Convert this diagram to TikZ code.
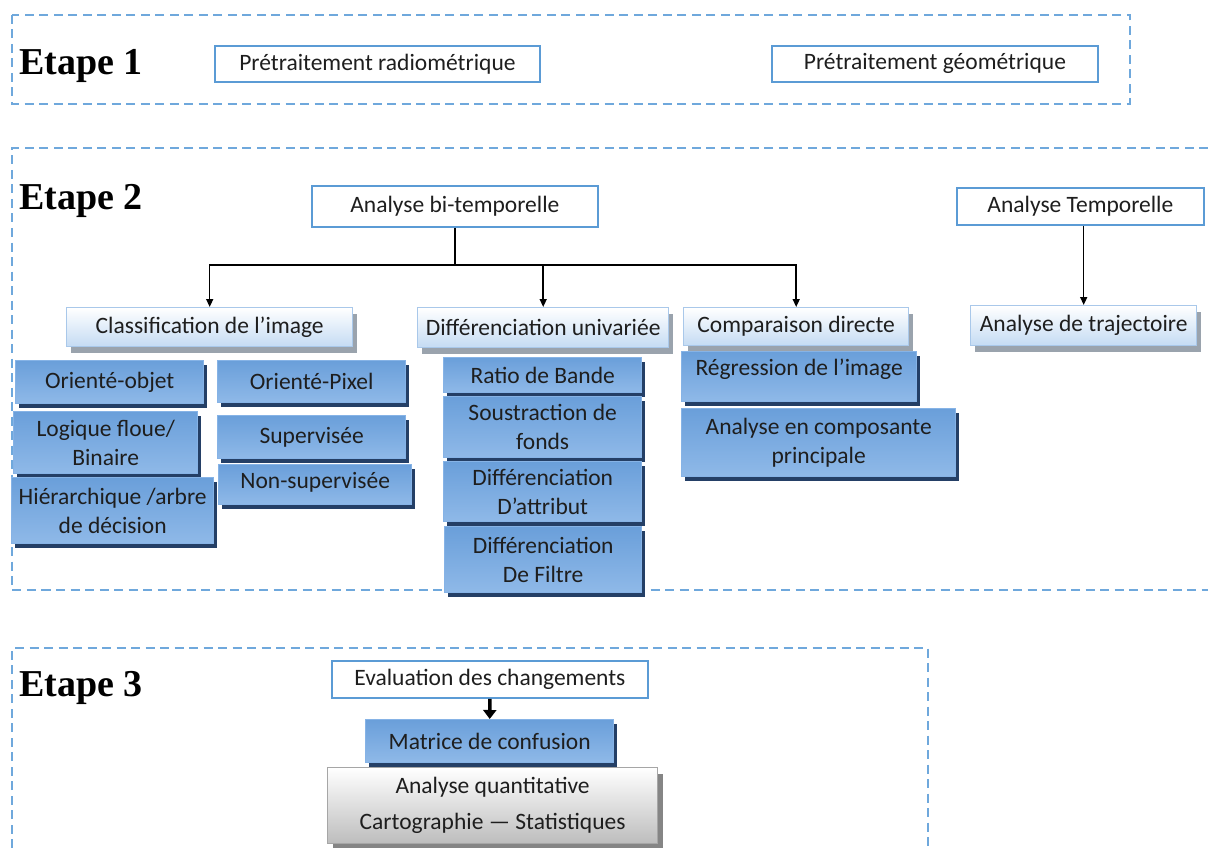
\documentclass[tikz,border=0pt]{standalone}
\usepackage{fontspec}
\setmainfont{Carlito}
\newfontfamily\etapefont{Liberation Serif}
\usetikzlibrary{arrows.meta,shadows}

\definecolor{frameblue}{HTML}{6FA8DC}
\definecolor{boxblue}{HTML}{5B9BD5}
\definecolor{lightedge}{HTML}{A9C8EA}
\definecolor{lightfill}{HTML}{C4DBF3}
\definecolor{lightshadow}{HTML}{9AA3AD}
\definecolor{darktop}{HTML}{6A9FDA}
\definecolor{darkmid}{HTML}{4F8BCF}
\definecolor{darkbot}{HTML}{8FB9E8}
\definecolor{darkedge}{HTML}{86B3E6}
\definecolor{navyshadow}{HTML}{243F66}
\definecolor{grayfill}{HTML}{BDBDBD}
\definecolor{grayedge}{HTML}{A6A6A6}
\definecolor{grayshadow}{HTML}{858585}
\definecolor{ink}{HTML}{1E1E1E}

\begin{document}
\begin{tikzpicture}[x=1pt, y=-1pt,
  font=\fontsize{23.5}{29}\selectfont, text=ink,
  frame/.style={draw=frameblue, line width=2.2pt, dash pattern=on 9pt off 5.5pt},
  etape/.style={font=\etapefont\bfseries\fontsize{38}{42}\selectfont, text=black, inner sep=0, anchor=base west},
  whitebox/.style={draw=boxblue, line width=1.8pt, fill=white, inner sep=0, anchor=north west, align=center},
  lightbox/.style={draw=lightedge, line width=1.4pt, top color=white, bottom color=lightfill,
    drop shadow={shadow xshift=4pt, shadow yshift=-6pt, fill=lightshadow, opacity=1},
    inner sep=0, anchor=north west, align=center},
  darkbox/.style={draw=darkedge, line width=1.4pt, top color=darktop, middle color=darkmid, bottom color=darkbot,
    drop shadow={shadow xshift=3pt, shadow yshift=-4pt, fill=navyshadow, opacity=1},
    inner sep=0, anchor=north west, align=center},
  graybox/.style={draw=grayedge, line width=1.2pt, top color=white, bottom color=grayfill,
    drop shadow={shadow xshift=5pt, shadow yshift=-6pt, fill=grayshadow, opacity=1},
    inner sep=0, anchor=north west, align=center},
  link/.style={draw=black, line width=1.5pt},
  arr/.style={link, -{Triangle[length=8pt,width=7pt]}},
  bigarr/.style={draw=black, line width=3.5pt, -{Triangle[length=9pt,width=13pt]}}
]
\path[use as bounding box] (0,0) rectangle (1208,848);

% dashed stage frames
\draw[frame] (12,15) rectangle (1130,104);
\draw[frame] (1208,148) -- (12,148) -- (12,590) -- (1208,590);
\draw[frame] (12,848) -- (12,648) -- (928,648) -- (928,848);

% stage titles
\node[etape] (e1) at (19,75) {Etape 1};
\node[etape] (e2) at (19,209) {Etape 2};
\node[etape] (e3) at (19,696) {Etape 3};

% stage 1
\node[whitebox, minimum width=325, minimum height=36] (rad) at (214,45) {Prétraitement radiométrique};
\node[whitebox, minimum width=326, minimum height=36] (geo) at (771,45) {Prétraitement géométrique};

% stage 2: headers
\node[whitebox, minimum width=286, minimum height=41] (bt) at (311,185) {Analyse bi-temporelle};
\node[whitebox, minimum width=247, minimum height=37] (at) at (956,187) {Analyse Temporelle};

\node[lightbox, minimum width=286, minimum height=39] (cl) at (66,307) {Classification de l’image};
\node[lightbox, minimum width=251, minimum height=40] (du) at (417,307) {Différenciation univariée};
\node[lightbox, minimum width=225, minimum height=38] (cp) at (683,307) {Comparaison directe};
\node[lightbox, minimum width=226, minimum height=40] (tr) at (970,305) {Analyse de trajectoire};

% stage 2: connectors
\coordinate (bus) at (454,265);
\draw[arr] (bt.south) |- (cl.north |- bus) -- (cl.north);
\draw[arr] (bt.south) |- (cp.north |- bus) -- (cp.north);
\draw[arr] (du.north |- bus) -- (du.north);
\draw[arr] (at.south -| tr.north) -- (tr.north);

% stage 2: classification methods
\node[darkbox, minimum width=188, minimum height=43] (oo) at (15,360) {Orienté-objet};
\node[darkbox, minimum width=188, minimum height=42] (op) at (217,360) {Orienté-Pixel};
\node[darkbox, minimum width=184, minimum height=62] (lf) at (13,411) {Logique floue/\\Binaire};
\node[darkbox, minimum width=188, minimum height=43] (sv) at (217,415) {Supervisée};
\node[darkbox, minimum width=193, minimum height=40, text depth=9pt] (ns) at (218,464) {Non-supervisée};
\node[darkbox, minimum width=202, minimum height=66] (hi) at (11,477) {Hiérarchique /arbre\\de décision};

% stage 2: univariate differencing
\node[darkbox, minimum width=198, minimum height=35] (rb) at (443,357) {Ratio de Bande};
\node[darkbox, minimum width=198, minimum height=61] (sf) at (443,396) {Soustraction de\\fonds};
\node[darkbox, minimum width=198, minimum height=60] (da) at (443,461) {Différenciation\\D’attribut};
\node[darkbox, minimum width=197, minimum height=66] (df) at (444,526) {Différenciation\\De Filtre};

% stage 2: direct comparison
\node[darkbox, minimum width=235, minimum height=50, text depth=18pt] (rg) at (681,351) {Régression de l’image};
\node[darkbox, minimum width=274, minimum height=68] (ac) at (681,408) {Analyse en composante\\principale};

% stage 3
\node[whitebox, minimum width=316, minimum height=37] (ev) at (331,660) {Evaluation des changements};
\node[darkbox, minimum width=248, minimum height=43] (mc) at (365,719) {Matrice de confusion};
\node[graybox, minimum width=330, minimum height=76] (aq) at (327,767) {Analyse quantitative\\[7pt]Cartographie — Statistiques};
\draw[bigarr] (ev.south) -- (mc.north);
\end{tikzpicture}
\end{document}
